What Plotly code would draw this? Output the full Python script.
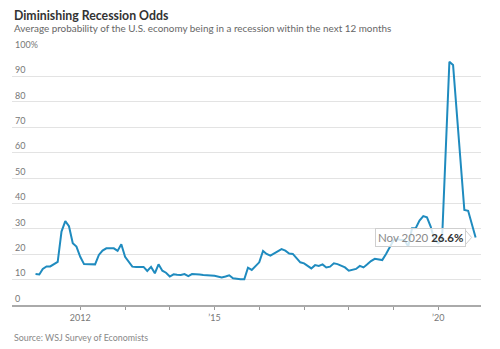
import pandas as pd
import plotly.graph_objects as go

# Monthly survey readings, Jan 2011 - Feb 2020 (percent)
base_months = pd.date_range("2011-01-01", "2020-02-01", freq="MS")
base_values = [
    12.2, 12.0, 14.2, 15.2, 15.2, 16.0, 17.0, 28.9, 33.0, 31.0, 24.3, 23.0,   # 2011
    19.0, 16.1, 16.0, 16.0, 16.0, 19.7, 21.4, 22.3, 22.3, 22.3, 21.3, 23.9,   # 2012
    19.0, 17.0, 15.1, 15.0, 15.0, 15.0, 13.4, 15.0, 12.5, 16.0, 13.5, 12.7,   # 2013
    11.2, 12.1, 11.9, 11.8, 12.2, 11.4, 12.2, 12.2, 12.0, 11.8, 11.8, 11.6,   # 2014
    11.5, 11.2, 10.8, 11.2, 11.7, 10.5, 10.2, 10.1, 10.1, 14.7, 13.8, 15.1,   # 2015
    16.8, 21.3, 20.1, 19.4, 20.3, 21.3, 22.0, 21.4, 20.3, 20.1, 18.4, 16.8,   # 2016
    16.4, 15.4, 14.4, 15.7, 15.4, 16.0, 14.8, 15.1, 16.4, 16.1, 15.5, 14.8,   # 2017
    13.5, 14.0, 14.2, 15.4, 14.8, 16.0, 17.3, 18.2, 18.0, 17.7, 20.1, 23.0,   # 2018
    25.5, 26.0, 25.6, 25.6, 23.0, 30.2, 30.2, 33.2, 35.0, 34.5, 30.8, 25.6,   # 2019
    24.3, 25.6,                                                               # 2020
]

# Pandemic-era surveys
late_months = ["2020-04-01", "2020-05-01", "2020-08-01", "2020-09-01", "2020-11-01"]
late_values = [95.8, 94.5, 37.4, 37.1, 26.6]

dates = list(base_months.strftime("%Y-%m-%d")) + late_months
values = base_values + late_values

last_label = "Nov 2020"
last_value = late_values[-1]

year_ticks = [f"{y}-01-01" for y in range(2012, 2021)]
year_text = ["2012", "", "", "\u201915", "", "", "", "", "\u201920"]

y_ticks = [0, 10, 20, 30, 40, 50, 60, 70, 80, 90, 100]
y_text = [str(v) for v in y_ticks[:-1]] + ["100%"]

LINE = "#1f8bbf"
GRID = "#e3e3e3"
FONT = "Lato"

fig = go.Figure()
fig.add_trace(go.Scatter(
    x=dates, y=values, mode="lines",
    line=dict(color=LINE, width=2),
    hoverinfo="skip",
))

fig.update_layout(
    width=500, height=349,
    margin=dict(l=12, r=19, t=51, b=44),
    paper_bgcolor="white", plot_bgcolor="white",
    showlegend=False,
    font=dict(family=FONT, color="#777"),
    xaxis=dict(
        type="date",
        range=["2010-06-23", "2020-12-15"],
        tickvals=year_ticks, ticktext=year_text,
        ticks="outside", ticklen=3, tickwidth=1, tickcolor="#999",
        showline=True, linecolor="#aaa", linewidth=2,
        showgrid=False, zeroline=False,
        tickfont=dict(size=9, color="#777", family=FONT),
    ),
    yaxis=dict(
        range=[0, 100],
        tickvals=y_ticks, ticktext=y_text,
        ticklabelposition="inside top",
        ticklabeloverflow="allow",
        ticks="",
        showgrid=True, gridcolor=GRID, gridwidth=1,
        zeroline=False, showline=False,
        tickfont=dict(size=9, color="#777", family=FONT),
    ),
)

# Title, subtitle and source
fig.add_annotation(
    text="<b>Diminishing Recession Odds</b>",
    xref="paper", yref="paper", x=0, y=1 + (51 - 15) / 254,
    xanchor="left", yanchor="middle", showarrow=False,
    font=dict(size=12.3, color="#333", family=FONT),
)
fig.add_annotation(
    text="Average probability of the U.S. economy being in a recession within the next 12 months",
    xref="paper", yref="paper", x=0, y=1 + (51 - 28.5) / 254,
    xanchor="left", yanchor="middle", showarrow=False,
    font=dict(size=9.9, color="#666", family=FONT),
)
fig.add_annotation(
    text="Source: WSJ Survey of Economists",
    xref="paper", yref="paper", x=0, y=-(337 - 305) / 254,
    xanchor="left", yanchor="middle", showarrow=False,
    font=dict(size=8.9, color="#888", family=FONT),
)

# Hover-style callout on the latest reading
fig.add_annotation(
    x=late_months[-1], y=last_value, xref="x", yref="y",
    text=f"<span style='color:#8a8a8a'>{last_label}</span> <b>{last_value}%</b>",
    showarrow=False, xanchor="right", yanchor="middle", xshift=-10,
    bgcolor="rgba(255,255,255,0.8)", bordercolor="#cfcfcf", borderwidth=1, borderpad=2,
    font=dict(size=11.5, color="#333", family=FONT),
)
fig.add_shape(
    type="path", xref="x", yref="y",
    xsizemode="pixel", ysizemode="pixel",
    xanchor=late_months[-1], yanchor=last_value,
    path="M -10,7 L -4,0 L -10,-7",
    line=dict(color="#cfcfcf", width=1), fillcolor="white", layer="above",
)

fig.write_html("out.html")
